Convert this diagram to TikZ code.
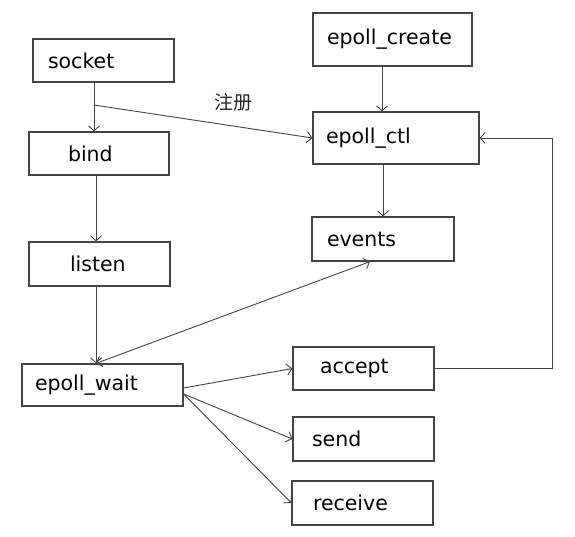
\documentclass[tikz,border=0pt]{standalone}
\usepackage{fontspec}
\setmainfont{DejaVu Sans}
\newfontfamily\cjk{Noto Sans CJK SC}
\usetikzlibrary{arrows.meta,calc}
\definecolor{ink}{HTML}{444444}
\tikzset{
	box/.style={draw=ink, line width=1.2pt, minimum height=43pt, inner ysep=0pt, align=left,
		font=\fontsize{20.5}{24}\selectfont},
	link/.style={draw=ink, line width=0.9pt, -{Straight Barb[length=5pt,width=11pt]}},
	biglink/.style={link, {Straight Barb[length=5pt,width=11pt]}-{Straight Barb[length=5pt,width=11pt]}}
}

\begin{document}
\begin{tikzpicture}[x=1pt, y=-1pt]
			%%%%% START %%%%%
			\fill[white] (0,0) rectangle (575,537);
			\useasboundingbox (0,0) rectangle (575,537);
			
			% left column
			\node[box, text width=111pt, inner xsep=15pt] (socket) at (103.5, 60.5) {socket};
			\node[box, text width=62pt, inner xsep=39pt] (bind) at (99, 153.5) {bind};
			\node[box, text width=59pt, inner xsep=41pt, minimum height=44pt] (listen) at (99.5, 264) {listen};
			\node[box, text width=135pt, inner xsep=13pt, minimum height=42pt] (epoll_wait) at (102.5, 385) {epoll\_wait};
			
			% right column
			\node[box, text width=131pt, inner xsep=14pt, minimum height=53pt] (epoll_create) at (392.5, 39.5) {epoll\_create};
			\node[box, text width=140pt, inner xsep=13pt, minimum height=52pt] (epoll_ctl) at (396, 138) {epoll\_ctl};
			\node[box, text width=112pt, inner xsep=15pt, minimum height=44pt] (events) at (383, 239) {events};
			\node[box, text width=87pt, inner xsep=27pt] (accept) at (363.5, 368.5) {accept};
			\node[box, text width=103pt, inner xsep=19pt, minimum height=44pt] (send) at (363.5, 439) {send};
			\node[box, text width=99pt, inner xsep=21pt, minimum height=44pt] (receive) at (362.5, 503) {receive};
			
			\coordinate (reg) at (94, 105);
			\coordinate (back) at (552, 0);
			\node[font=\cjk\fontsize{19}{22}\selectfont, text=black!85] (zhuce) at (233, 102) {注册};
			
			% connectors
			\draw[link] ([xshift=-9.5pt]socket.south) -- ([xshift=-9.5pt]socket.south |- bind.north);
			\draw[link] ([xshift=-3pt]bind.south) -- ([xshift=-3pt]bind.south |- listen.north);
			\draw[link] ([xshift=-3.5pt]listen.south) -- ([xshift=-3.5pt]listen.south |- epoll_wait.north);
			\draw[link] (reg) -- (epoll_ctl.west);
			\draw[link] ([xshift=-10.5pt]epoll_create.south) -- ([xshift=-10.5pt]epoll_create.south |- epoll_ctl.north);
			\draw[link] ([xshift=-13pt]epoll_ctl.south) -- ([xshift=-13pt]epoll_ctl.south |- events.north);
			\draw[biglink] ([xshift=-13pt]events.south) -- ([xshift=-6.5pt]epoll_wait.north);
			\draw[link] ([yshift=-3pt]epoll_wait.east) -- (accept.west);
			\draw[link] ([yshift=-9pt]epoll_wait.east) -- (send.west);
			\draw[link] ([yshift=-9pt]epoll_wait.east) -- (receive.west);
			\draw[link] (accept.east) -- (accept.east -| back) -- (epoll_ctl.east -| back) -- (epoll_ctl.east);
			%%%%% END %%%%%
\end{tikzpicture}
\end{document}
